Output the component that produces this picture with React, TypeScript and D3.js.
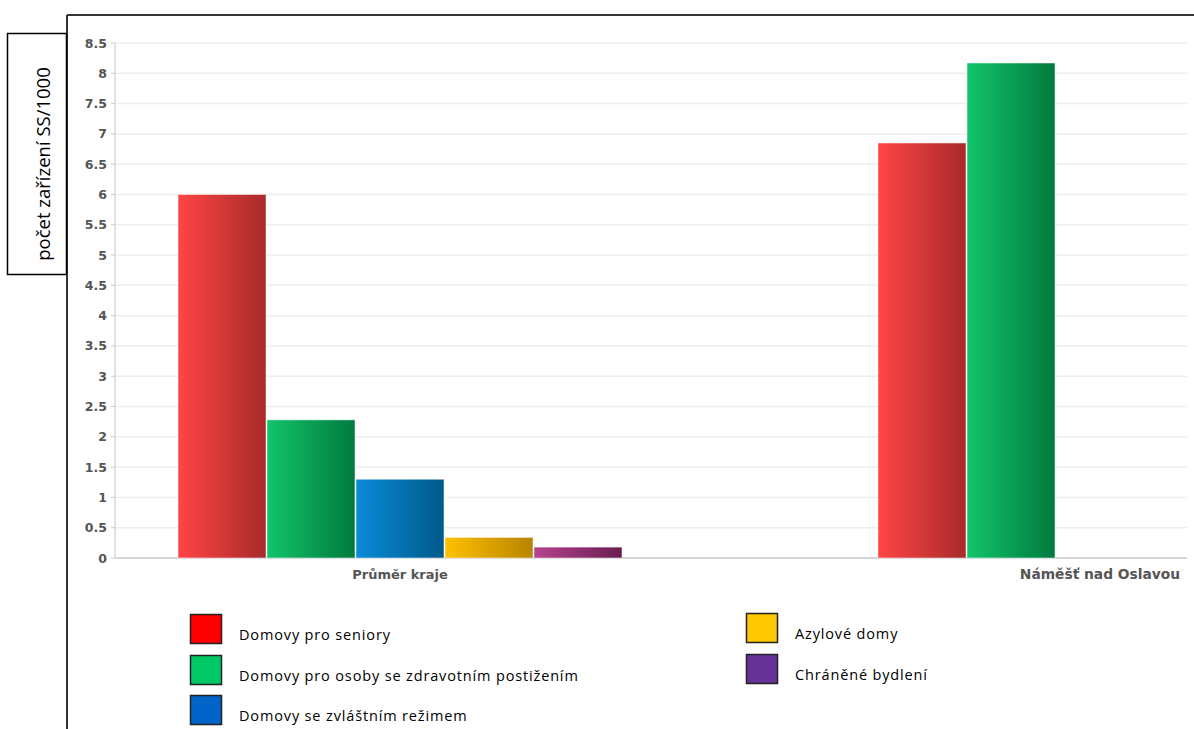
import React from "react";
import * as d3 from "d3";

const categories = ["Průměr kraje", "Náměšť nad Oslavou"];
const seriesNames = [
  "Domovy pro seniory",
  "Domovy pro osoby se zdravotním postižením",
  "Domovy se zvláštním režimem",
  "Azylové domy",
  "Chráněné bydlení",
];
// values per series: [Průměr kraje, Náměšť nad Oslavou]
const seniory = [6.0, 6.85];
const zdravotni = [2.28, 8.17];
const rezim = [1.3, 0];
const azyl = [0.34, 0];
const chranene = [0.18, 0];
const seriesValues = [seniory, zdravotni, rezim, azyl, chranene];
const yTicks = [0, 0.5, 1, 1.5, 2, 2.5, 3, 3.5, 4, 4.5, 5, 5.5, 6, 6.5, 7, 7.5, 8, 8.5];

const swatchColors = ["#ff0000", "#00c864", "#0064c8", "#ffc800", "#663399"];
const gradStops = [
  ["#ff4545", "#a82a2a"],
  ["#12c46a", "#007a3e"],
  ["#0a8ad8", "#005a8c"],
  ["#ffc000", "#b88400"],
  ["#b5438f", "#6b1c52"],
];

export default function App() {
  const W = 1194, H = 729;
  const y = d3.scaleLinear().domain([0, 8.5]).range([558, 43]);
  const x0 = d3.scalePoint<string>().domain(categories).range([400, 1100]);
  const x1 = d3.scaleBand<number>().domain(d3.range(seriesNames.length)).range([-222.5, 222.5]);
  const axisX = 115, rightX = 1187;
  const fmt = (v: number) => String(v);

  const legendPos = [
    { x: 190, y: 614 },
    { x: 190, y: 655 },
    { x: 190, y: 695 },
    { x: 746, y: 613 },
    { x: 746, y: 654 },
  ];

  return (
    <svg width={W} height={H} style={{ position: "absolute", left: 0, top: 0, background: "#fff" }}>
      <defs>
        {gradStops.map((g, i) => (
          <linearGradient key={i} id={`g${i}`} x1="0" x2="1" y1="0" y2="0">
            <stop offset="0" stopColor={g[0]} />
            <stop offset="1" stopColor={g[1]} />
          </linearGradient>
        ))}
      </defs>
      {/* outer frame */}
      <line x1={67} x2={W} y1={15} y2={15} stroke="#333" strokeWidth={2} />
      <line x1={67} x2={67} y1={15} y2={H} stroke="#333" strokeWidth={2} />
      {/* y label box */}
      <rect x={7.5} y={33.5} width={59} height={241} fill="#fff" stroke="#000" strokeWidth={1.5} />
      <text
        transform={`translate(50,164) rotate(-90)`}
        textAnchor="middle"
        fontFamily="Open Sans, Liberation Sans, sans-serif"
        fontSize={18.5}
        fill="#000"
      >
        počet zařízení SS/1000
      </text>
      {/* grid */}
      {yTicks.map((t) => (
        <line key={t} x1={axisX} x2={rightX} y1={y(t)} y2={y(t)} stroke={t === 0 ? "#c8c8c8" : "#eeeeee"} strokeWidth={1.5} />
      ))}
      <line x1={axisX} x2={axisX} y1={y(8.5)} y2={y(0)} stroke="#d8d8d8" strokeWidth={1.5} />
      {yTicks.map((t) => (
        <g key={"t" + t}>
          <line x1={axisX - 4} x2={axisX} y1={y(t)} y2={y(t)} stroke="#ccc" />
          <text x={107} y={y(t)} dy="0.36em" textAnchor="end" fontFamily="DejaVu Sans, Verdana, sans-serif" fontSize={12.5} fontWeight="bold" fill="#555">
            {fmt(t)}
          </text>
        </g>
      ))}
      {/* bars */}
      {categories.map((c, ci) => (
        <g key={c}>
          {seriesValues.map((vals, si) => {
            const v = vals[ci];
            if (!v) return null;
            const bx = (x0(c) as number) + (x1(si) as number);
            return (
              <rect key={si} x={bx + 0.5} y={y(v)} width={x1.bandwidth() - 1} height={y(0) - y(v)} fill={`url(#g${si})`} stroke="rgba(255,255,255,0.5)" strokeWidth={1} />
            );
          })}
          <text x={x0(c) as number} y={579} textAnchor="middle" fontFamily="DejaVu Sans, Verdana, sans-serif" fontSize={ci === 0 ? 13 : 13.8} fontWeight="bold" fill="#555">
            {c}
          </text>
        </g>
      ))}
      {/* legend */}
      {seriesNames.map((n, i) => (
        <g key={n}>
          <rect x={legendPos[i].x + 0.5} y={legendPos[i].y + 0.5} width={31} height={29} fill={swatchColors[i]} stroke="#222" strokeWidth={1.5} />
          <text x={legendPos[i].x + 49} y={legendPos[i].y + 26} fontFamily="Open Sans, Liberation Sans, sans-serif" fontSize={14.5} fill="#000" letterSpacing={0.85}>
            {n}
          </text>
        </g>
      ))}
    </svg>
  );
}
